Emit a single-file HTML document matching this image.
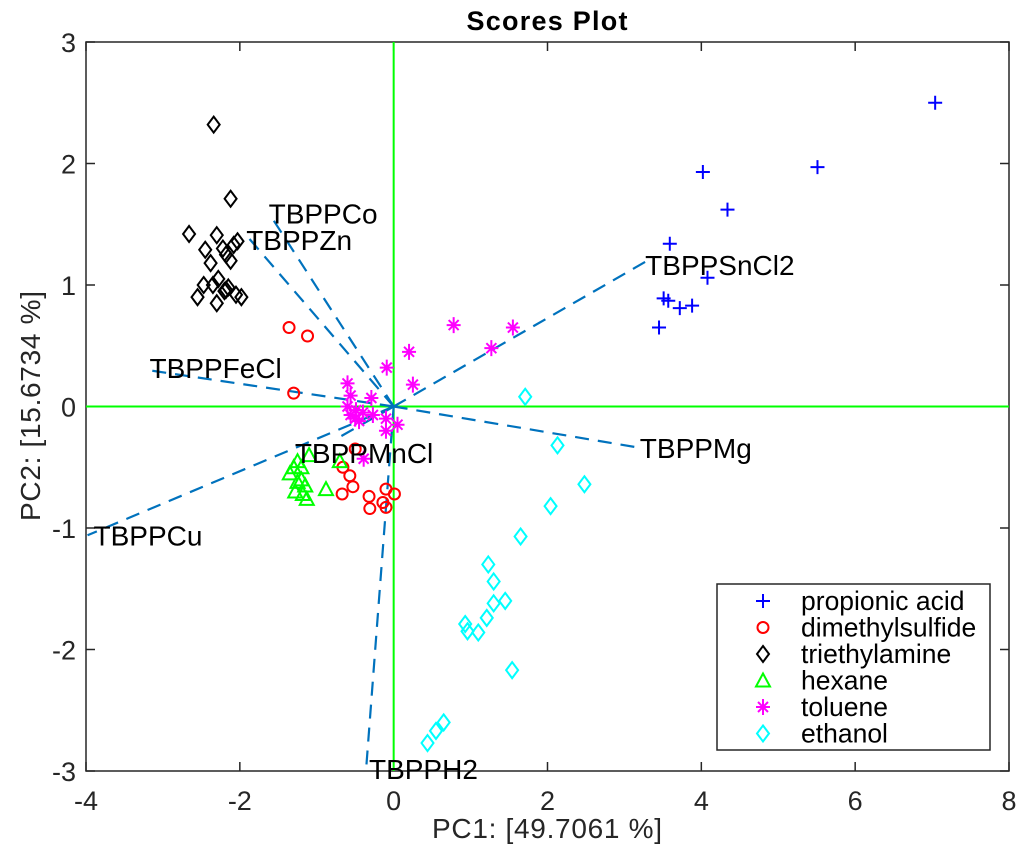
<!DOCTYPE html>
<html><head><meta charset="utf-8"><style>
body{margin:0;background:#fff;}
svg{display:block;font-family:"Liberation Sans",sans-serif;}
</style></head><body>
<svg id="chart" width="1024" height="850" xmlns="http://www.w3.org/2000/svg">
<rect width="1024" height="850" fill="#fff"/>
<g id="plot"></g>
</svg>
<script>
const xTicks=[-4,-2,0,2,4,6,8];
const yTicks=[-3,-2,-1,0,1,2,3];
const propionic=[[7.04,2.50],[5.51,1.97],[4.02,1.93],[4.34,1.62],[3.59,1.34],[4.08,1.06],[3.51,0.89],[3.57,0.87],[3.88,0.83],[3.72,0.81],[3.45,0.65]];
const dimethyl=[[-1.36,0.65],[-1.12,0.58],[-1.30,0.11],[-0.66,-0.5],[-0.57,-0.57],[-0.53,-0.66],[-0.67,-0.72],[-0.32,-0.74],[-0.1,-0.68],[-0.14,-0.79],[0.01,-0.72],[-0.31,-0.84],[-0.1,-0.83],[-0.5,-0.35]];
const triethyl=[[-2.34,2.32],[-2.12,1.71],[-2.66,1.42],[-2.3,1.41],[-2.08,1.33],[-2.45,1.29],[-2.22,1.3],[-2.03,1.36],[-2.38,1.18],[-2.18,1.25],[-2.12,1.2],[-2.28,1.05],[-2.47,1.0],[-2.18,0.96],[-2.55,0.9],[-2.2,0.95],[-2.05,0.92],[-1.98,0.9],[-2.35,1.0],[-2.15,0.98],[-2.3,0.85]];
const hexane=[[-1.3,-0.5],[-1.25,-0.45],[-1.2,-0.5],[-1.35,-0.55],[-1.2,-0.6],[-1.15,-0.65],[-1.28,-0.7],[-1.18,-0.72],[-1.13,-0.76],[-0.88,-0.68],[-1.1,-0.4],[-0.7,-0.45],[-1.25,-0.62]];
const toluene=[[0.78,0.67],[1.27,0.48],[1.55,0.65],[0.2,0.45],[-0.09,0.32],[0.25,0.18],[-0.6,0.19],[-0.56,0.09],[-0.29,0.07],[-0.49,-0.03],[-0.56,-0.07],[-0.45,-0.12],[-0.27,-0.07],[-0.1,-0.1],[-0.1,-0.2],[0.05,-0.15],[-0.39,-0.43],[-0.5,-0.1],[-0.4,-0.05],[-0.6,0.0]];
const ethanol=[[1.71,0.08],[2.13,-0.32],[2.48,-0.64],[2.04,-0.82],[1.65,-1.07],[1.23,-1.30],[1.3,-1.44],[1.3,-1.62],[1.45,-1.6],[1.21,-1.74],[0.93,-1.79],[0.96,-1.85],[1.1,-1.86],[1.54,-2.17],[0.65,-2.6],[0.55,-2.67],[0.44,-2.77]];
const loadNames=["TBPPCo","TBPPZn","TBPPFeCl","TBPPSnCl2","TBPPMg","TBPPMnCl","TBPPCu","TBPPH2"];
const loadX=[-1.6,-1.93,-3.2,3.27,3.2,-0.7,-3.98,-0.36];
const loadY=[1.57,1.42,0.3,1.19,-0.34,-0.25,-1.06,-3.0];
const legendNames=["propionic acid","dimethylsulfide","triethylamine","hexane","toluene","ethanol"];

const L=86,R=1009,T=42,B=771;
const sx=v=>L+(v+4)/12*(R-L);
const sy=v=>B-(v+3)/6*(B-T);
const NS="http://www.w3.org/2000/svg";
const g=document.getElementById('plot');
function el(tag,attrs,parent){const e=document.createElementNS(NS,tag);for(const k in attrs)e.setAttribute(k,attrs[k]);(parent||g).appendChild(e);return e;}
function txt(s,attrs,parent){const e=el('text',attrs,parent);e.textContent=s;return e;}

const box=el('rect',{x:L,y:T,width:R-L,height:B-T,fill:'none',stroke:'#262626','stroke-width':1.5});


xTicks.forEach(v=>{
  const x=sx(v);
  el('line',{x1:x,y1:B,x2:x,y2:B-9,stroke:'#262626','stroke-width':1.5});
  el('line',{x1:x,y1:T,x2:x,y2:T+9,stroke:'#262626','stroke-width':1.5});
  const t=txt(v,{x:x,y:B+39,'text-anchor':'middle','font-size':27,fill:'#262626'});
  
  
});
yTicks.forEach(v=>{
  const y=sy(v);
  el('line',{x1:L,y1:y,x2:L+9,y2:y,stroke:'#262626','stroke-width':1.5});
  el('line',{x1:R,y1:y,x2:R-9,y2:y,stroke:'#262626','stroke-width':1.5});
  const t=txt(v,{x:L-10,y:y+10,'text-anchor':'end','font-size':27,fill:'#262626'});
  
  
});
el('line',{x1:L,y1:sy(0),x2:R,y2:sy(0),stroke:'#00ff00','stroke-width':2});
el('line',{x1:sx(0),y1:T,x2:sx(0),y2:B,stroke:'#00ff00','stroke-width':2});

loadNames.forEach((n,i)=>{
  const ln=el('line',{x1:sx(0),y1:sy(0),x2:sx(loadX[i]),y2:sy(loadY[i]),stroke:'#0072bd','stroke-width':2.2,'stroke-dasharray':'14,9'});
  
  
});

function marker(type,color,x,y,parent){
  const p=parent||g;
  const a={fill:'none',stroke:color,'stroke-width':2};
  if(type==='plus'){el('path',Object.assign({d:`M${x-7} ${y}H${x+7}M${x} ${y-7}V${y+7}`},a),p);}
  else if(type==='circle'){el('circle',Object.assign({cx:x,cy:y,r:5.5},a),p);}
  else if(type==='diamond'){el('path',Object.assign({d:`M${x} ${y-8}L${x+6} ${y}L${x} ${y+8}L${x-6} ${y}Z`},a),p);}
  else if(type==='tri'){el('path',Object.assign({d:`M${x} ${y-7}L${x+7} ${y+6}L${x-7} ${y+6}Z`},a),p);}
  else if(type==='star'){el('path',Object.assign({d:`M${x-7} ${y}H${x+7}M${x} ${y-8}V${y+8}M${x-5} ${y-5}L${x+5} ${y+5}M${x+5} ${y-5}L${x-5} ${y+5}`},a),p);}
}
const series=[[propionic,'plus','#0000ff'],[dimethyl,'circle','#ff0000'],[triethyl,'diamond','#000000'],[hexane,'tri','#00ff00'],[toluene,'star','#ff00ff'],[ethanol,'diamond','#00ffff']];
series.forEach((s,k)=>{
  const sg=el('g',{});
  
  
  s[0].forEach(d=>marker(s[1],s[2],sx(d[0]),sy(d[1]),sg));
});

const labOff=[[-2,-2],[1,6],[2,-2],[0,3],[0,0],[-45,16],[6,0],[3,-2]];
loadNames.forEach((n,i)=>{
  const t=txt(n,{x:sx(loadX[i])+labOff[i][0],y:sy(loadY[i])+labOff[i][1]+10,'font-size':28,fill:'#000'});
  
  
});

const lg=el('g',{});


el('rect',{x:717,y:584,width:273,height:166,fill:'#fff',stroke:'#262626','stroke-width':1.5},lg);
legendNames.forEach((n,k)=>{
  const y=601+k*26.5;
  marker(series[k][1],series[k][2],763,y,lg);
  const t=txt(n,{x:801,y:y+9,'font-size':26.5,fill:'#000'},lg);
  
  
});

const tt=txt('Scores Plot',{x:547,y:30,'text-anchor':'middle','font-size':27,'font-weight':'bold',fill:'#000',textLength:161});


const xt=txt('PC1: [49.7061 %]',{x:547,y:838,'text-anchor':'middle','font-size':28,fill:'#262626',textLength:230});


const yt=txt('PC2: [15.6734 %]',{x:0,y:0,'text-anchor':'middle','font-size':28,fill:'#262626',textLength:230,transform:'translate(40,406) rotate(-90)'});


</script>
</body></html>
